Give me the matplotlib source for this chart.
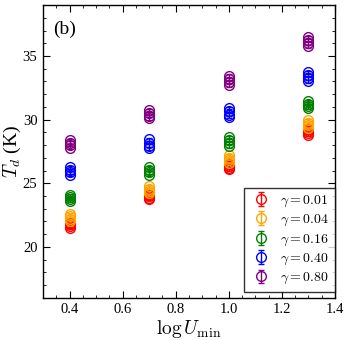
#!/usr/bin/env python3

import numpy as np
import matplotlib
matplotlib.use('Agg')
from matplotlib import pyplot as plt
from matplotlib.ticker import MultipleLocator

plt.rcParams['font.family'] = ['Liberation Serif', 'DejaVu Serif']
plt.rcParams['mathtext.fontset'] = 'cm'

log_umin = [0.4, 0.7, 1.0, 1.3]
gammas = ['0.01', '0.04', '0.16', '0.40', '0.80']
colors = ['red', 'orange', 'green', 'blue', 'purple']

# dust temperature, four runs per (gamma, logUmin)
td_001 = [[21.9, 21.8, 21.65, 21.5],
          [24.1, 24.0, 23.85, 23.75],
          [26.5, 26.35, 26.2, 26.1],
          [29.3, 29.1, 28.95, 28.8]]
td_004 = [[22.6, 22.4, 22.2, 22.0],
          [24.75, 24.55, 24.4, 24.2],
          [27.2, 27.0, 26.8, 26.6],
          [29.95, 29.75, 29.55, 29.35]]
td_016 = [[24.05, 23.9, 23.75, 23.6],
          [26.25, 26.05, 25.85, 25.65],
          [28.65, 28.4, 28.15, 27.9],
          [31.45, 31.25, 31.1, 30.95]]
td_040 = [[26.25, 26.05, 25.85, 25.65],
          [28.45, 28.2, 27.95, 27.75],
          [30.9, 30.65, 30.4, 30.2],
          [33.75, 33.5, 33.25, 33.0]]
td_080 = [[28.4, 28.2, 28.0, 27.8],
          [30.75, 30.5, 30.3, 30.1],
          [33.45, 33.2, 32.95, 32.7],
          [36.5, 36.25, 36.0, 35.75]]
td_err = 0.1

all_td = [td_001, td_004, td_016, td_040, td_080]

fig = plt.figure(figsize=(3.5, 3.4), dpi=100)
ax = fig.add_axes([0.123, 0.124, 0.834, 0.861])

for td, gam, col in zip(all_td, gammas, colors):
    xs = np.repeat(log_umin, 4)
    ys = np.array(td).ravel()
    ax.errorbar(xs, ys, yerr=td_err, fmt='o', mfc='none', mec=col, ecolor=col,
                ms=7, mew=1.0, elinewidth=1.0, capsize=2,
                label=r'$\gamma = %s$' % gam)

ax.set_xlim(0.3, 1.4)
ax.set_ylim(16, 39)
ax.xaxis.set_major_locator(MultipleLocator(0.2))
ax.xaxis.set_minor_locator(MultipleLocator(0.05))
ax.yaxis.set_major_locator(MultipleLocator(5))
ax.yaxis.set_minor_locator(MultipleLocator(1))
ax.tick_params(which='both', direction='in', top=True, right=True, labelsize=10.5)
ax.tick_params(which='major', length=5, pad=4)
ax.tick_params(which='minor', length=2.5)
for sp in ax.spines.values():
    sp.set_linewidth(1.0)

ax.set_xlabel(r'$\log U_{\rm min}$', fontsize=14, labelpad=1)
ax.set_ylabel(r'$T_d$ (K)', fontsize=14, labelpad=0)
ax.text(0.035, 0.9, '(b)', transform=ax.transAxes, fontsize=14)

leg = ax.legend(loc='lower right', fontsize=10, frameon=True, fancybox=False,
                edgecolor='black', bbox_to_anchor=(1.0, 0.02),
                borderaxespad=0.0, handletextpad=0.6,
                handlelength=1.6, labelspacing=0.3, borderpad=0.4)
leg.get_frame().set_linewidth(1.0)

fig.savefig('out.png', dpi=100)
